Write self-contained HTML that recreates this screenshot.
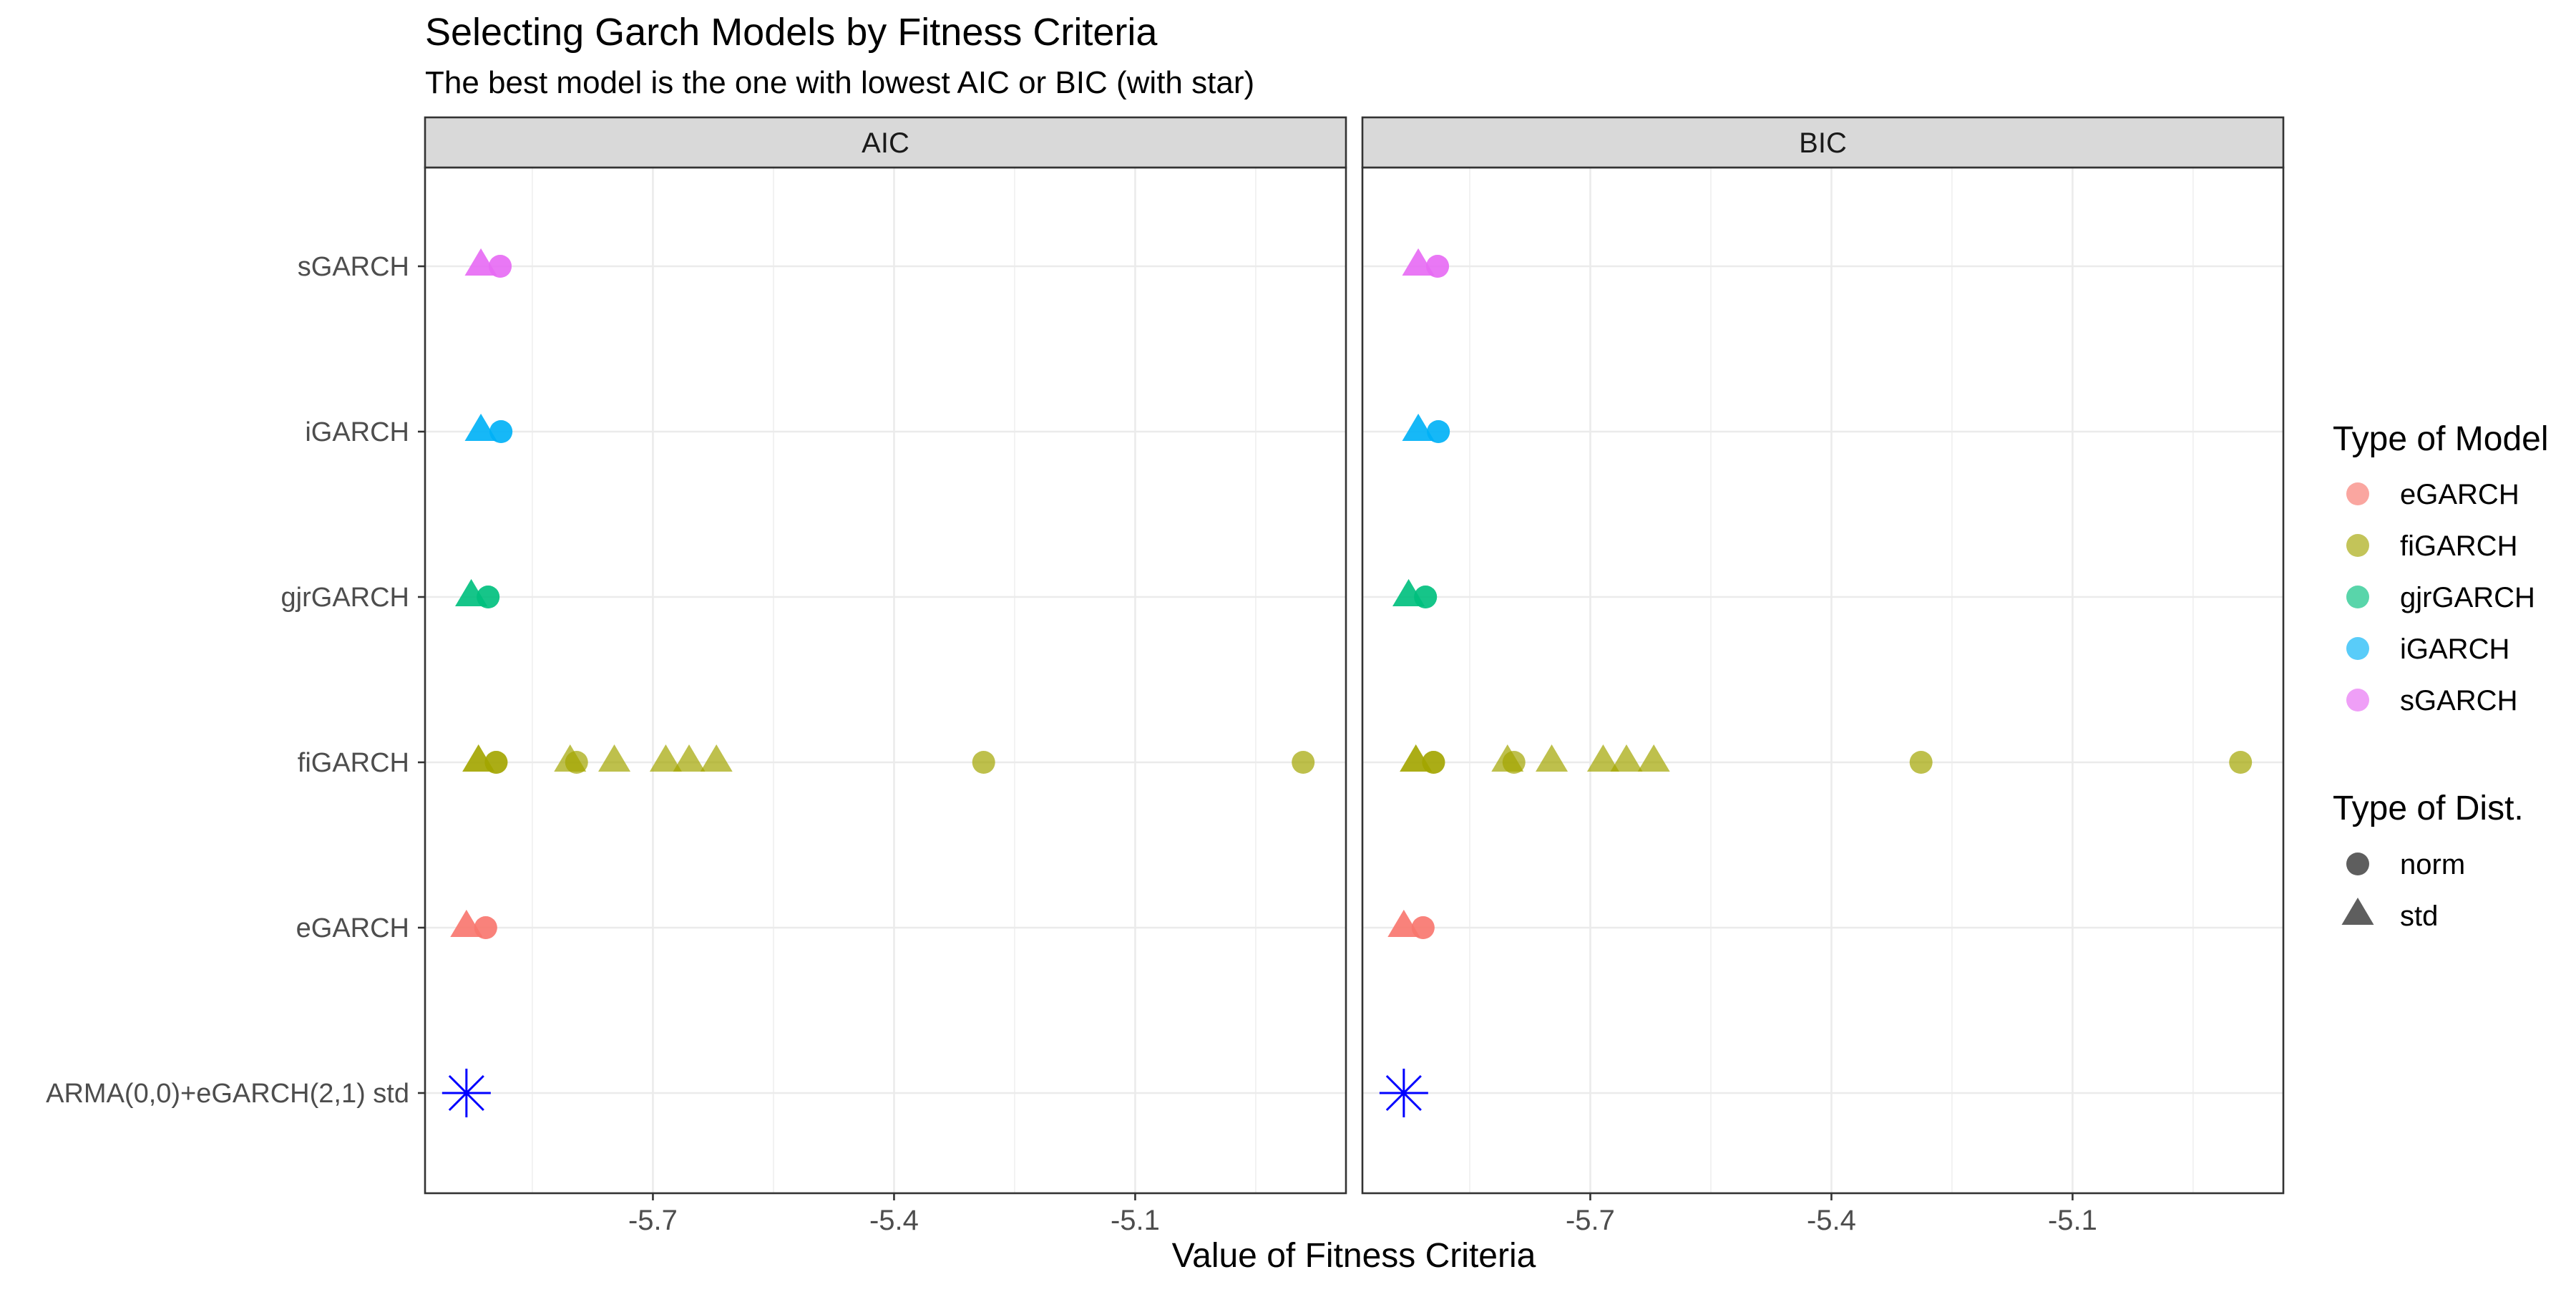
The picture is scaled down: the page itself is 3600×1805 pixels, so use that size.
<!DOCTYPE html>
<html><head><meta charset="utf-8"><style>
html,body{margin:0;padding:0;background:#fff;}
svg text{font-family:"Liberation Sans",Arial,sans-serif;}
</style></head><body>
<svg id="chart" width="3600" height="1800" viewBox="0 0 3600 1800" xmlns="http://www.w3.org/2000/svg">
<rect width="3600" height="1800" fill="#fff"/>
<text x="594" y="63" font-size="54" fill="#000">Selecting Garch Models by Fitness Criteria</text>
<text x="594" y="130" font-size="44" fill="#000">The best model is the one with lowest AIC or BIC (with star)</text>
<g id="panels"></g>
<g id="yaxis"></g>
<text x="1892" y="1770" font-size="48" text-anchor="middle" fill="#000">Value of Fitness Criteria</text>
<g id="legend"></g>
</svg>
<script>
const categories = ["ARMA(0,0)+eGARCH(2,1) std","eGARCH","fiGARCH","gjrGARCH","iGARCH","sGARCH"];
const xTicks = [-5.7,-5.4,-5.1];
const xMinor = [-5.85,-5.55,-5.25,-4.95];
const facets = ["AIC","BIC"];
const models = ["eGARCH","fiGARCH","gjrGARCH","iGARCH","sGARCH"];
const modelColors = ["#F8766D","#A3A500","#00BF7D","#00B0F6","#E76BF3"];
const dists = ["norm","std"];
const aicModel = ["sGARCH","sGARCH","sGARCH","sGARCH","iGARCH","iGARCH","iGARCH","iGARCH","gjrGARCH","gjrGARCH","gjrGARCH","gjrGARCH","fiGARCH","fiGARCH","fiGARCH","fiGARCH","fiGARCH","fiGARCH","fiGARCH","fiGARCH","fiGARCH","fiGARCH","fiGARCH","fiGARCH","eGARCH","eGARCH","eGARCH","eGARCH"];
const aicDist = ["std","std","norm","norm","std","std","norm","norm","std","std","norm","norm","std","std","norm","norm","std","norm","std","std","std","std","norm","norm","std","std","norm","norm"];
const aicValue = [-5.914,-5.914,-5.890,-5.890,-5.914,-5.914,-5.889,-5.889,-5.926,-5.926,-5.905,-5.905,-5.917,-5.917,-5.895,-5.895,-5.803,-5.795,-5.748,-5.684,-5.655,-5.621,-5.2885,-4.891,-5.932,-5.932,-5.908,-5.908];
const bicModel = aicModel.slice();
const bicDist = aicDist.slice();
const bicValue = [-5.914,-5.914,-5.890,-5.890,-5.914,-5.914,-5.889,-5.889,-5.926,-5.926,-5.905,-5.905,-5.917,-5.917,-5.895,-5.895,-5.803,-5.795,-5.748,-5.684,-5.655,-5.621,-5.2885,-4.891,-5.932,-5.932,-5.908,-5.908];
const bestValue = [-5.932,-5.932];

const NS="http://www.w3.org/2000/svg";
function mk(tag,attrs,parent){const e=document.createElementNS(NS,tag);for(const k in attrs)e.setAttribute(k,attrs[k]);parent.appendChild(e);return e;}
const panelLeft=[594,1904], panelW=1287, panelTop=164, stripH=70, panelBottom=1667;
const xMin=-5.9835, pxPerUnit=1123.3;
function xScale(p,v){return panelLeft[p]+(v-xMin)*pxPerUnit;}
function yScale(i){return 1527-i*231;}
const panelsG=document.getElementById('panels');
const data=[[aicModel,aicDist,aicValue],[bicModel,bicDist,bicValue]];
facets.forEach((f,p)=>{
  const g=mk('g',{},panelsG);
  
  
  const L=panelLeft[p], pt=panelTop+stripH;
  xMinor.forEach(v=>{const l=mk('line',{x1:xScale(p,v),x2:xScale(p,v),y1:pt,y2:panelBottom,stroke:'#EBEBEB','stroke-width':1.3},g);
    
    });
  xTicks.forEach(v=>{const l=mk('line',{x1:xScale(p,v),x2:xScale(p,v),y1:pt,y2:panelBottom,stroke:'#EBEBEB','stroke-width':2.6},g);
    
    });
  categories.forEach((c,i)=>{const l=mk('line',{x1:L,x2:L+panelW,y1:yScale(i),y2:yScale(i),stroke:'#EBEBEB','stroke-width':2.6},g);
    
    });
  const [mA,dA,vA]=data[p];
  vA.forEach((v,k)=>{
    const col=modelColors[models.indexOf(mA[k])];
    const cx=xScale(p,v), cy=yScale(categories.indexOf(mA[k]));
    let e;
    if(dA[k]==='norm'){e=mk('circle',{cx:cx,cy:cy,r:16,fill:col,'fill-opacity':0.7},g);}
    else{e=mk('polygon',{points:`${cx},${cy-25} ${cx+22.5},${cy+13} ${cx-22.5},${cy+13}`,fill:col,'fill-opacity':0.7},g);}
    
    
  });
  const sx=xScale(p,bestValue[p]), sy=yScale(0);
  const star=mk('path',{d:`M${sx-34},${sy}H${sx+34}M${sx},${sy-34}V${sy+34}M${sx-24},${sy-24}L${sx+24},${sy+24}M${sx-24},${sy+24}L${sx+24},${sy-24}`,stroke:'#0000FF','stroke-width':3,fill:'none'},g);
  
  
  const border=mk('rect',{x:L,y:pt,width:panelW,height:panelBottom-pt,fill:'none',stroke:'#333','stroke-width':2.6},g);
  
  
  const strip=mk('rect',{x:L,y:panelTop,width:panelW,height:stripH,fill:'#D9D9D9',stroke:'#333','stroke-width':2.6},g);
  
  
  const st=mk('text',{x:L+panelW/2,y:panelTop+stripH/2+14,'font-size':40,'text-anchor':'middle',fill:'#1A1A1A'},g);
  st.textContent=f;
  
  
  xTicks.forEach(v=>{
    const t=mk('line',{x1:xScale(p,v),x2:xScale(p,v),y1:panelBottom,y2:panelBottom+10,stroke:'#333','stroke-width':2.6},g);
    
    
    const tx=mk('text',{x:xScale(p,v),y:1718,'font-size':40,'text-anchor':'middle',fill:'#4D4D4D'},g);
    tx.textContent=v.toFixed(1);
    
    
  });
});
const yG=document.getElementById('yaxis');
categories.forEach((c,i)=>{
  const t=mk('line',{x1:584,x2:594,y1:yScale(i),y2:yScale(i),stroke:'#333','stroke-width':2.6},yG);
  
  
  const tx=mk('text',{x:572,y:yScale(i)+13,'font-size':38,'text-anchor':'end',fill:'#4D4D4D'},yG);
  tx.textContent=c;
  
  
});
const lg=document.getElementById('legend');
const lt=mk('text',{x:3260,y:629,'font-size':48,fill:'#000'},lg);
lt.textContent='Type of Model';


models.forEach((m,i)=>{
  const y=690+i*72;
  const c=mk('circle',{cx:3295,cy:y,r:16,fill:modelColors[i],'fill-opacity':0.65},lg);
  
  
  const t=mk('text',{x:3354,y:y+14,'font-size':40,fill:'#000'},lg);
  t.textContent=m;
  
  
});
const lt2=mk('text',{x:3260,y:1145,'font-size':48,fill:'#000'},lg);
lt2.textContent='Type of Dist.';


dists.forEach((d,i)=>{
  const y=1207+i*72;
  let e;
  if(d==='norm') e=mk('circle',{cx:3295,cy:y,r:16,fill:'#4D4D4D','fill-opacity':0.9},lg);
  else e=mk('polygon',{points:`3295,${y-25} 3317.5,${y+13} 3272.5,${y+13}`,fill:'#4D4D4D','fill-opacity':0.9},lg);
  
  
  const t=mk('text',{x:3354,y:y+14,'font-size':40,fill:'#000'},lg);
  t.textContent=d;
  
  
});
</script>
</body></html>
